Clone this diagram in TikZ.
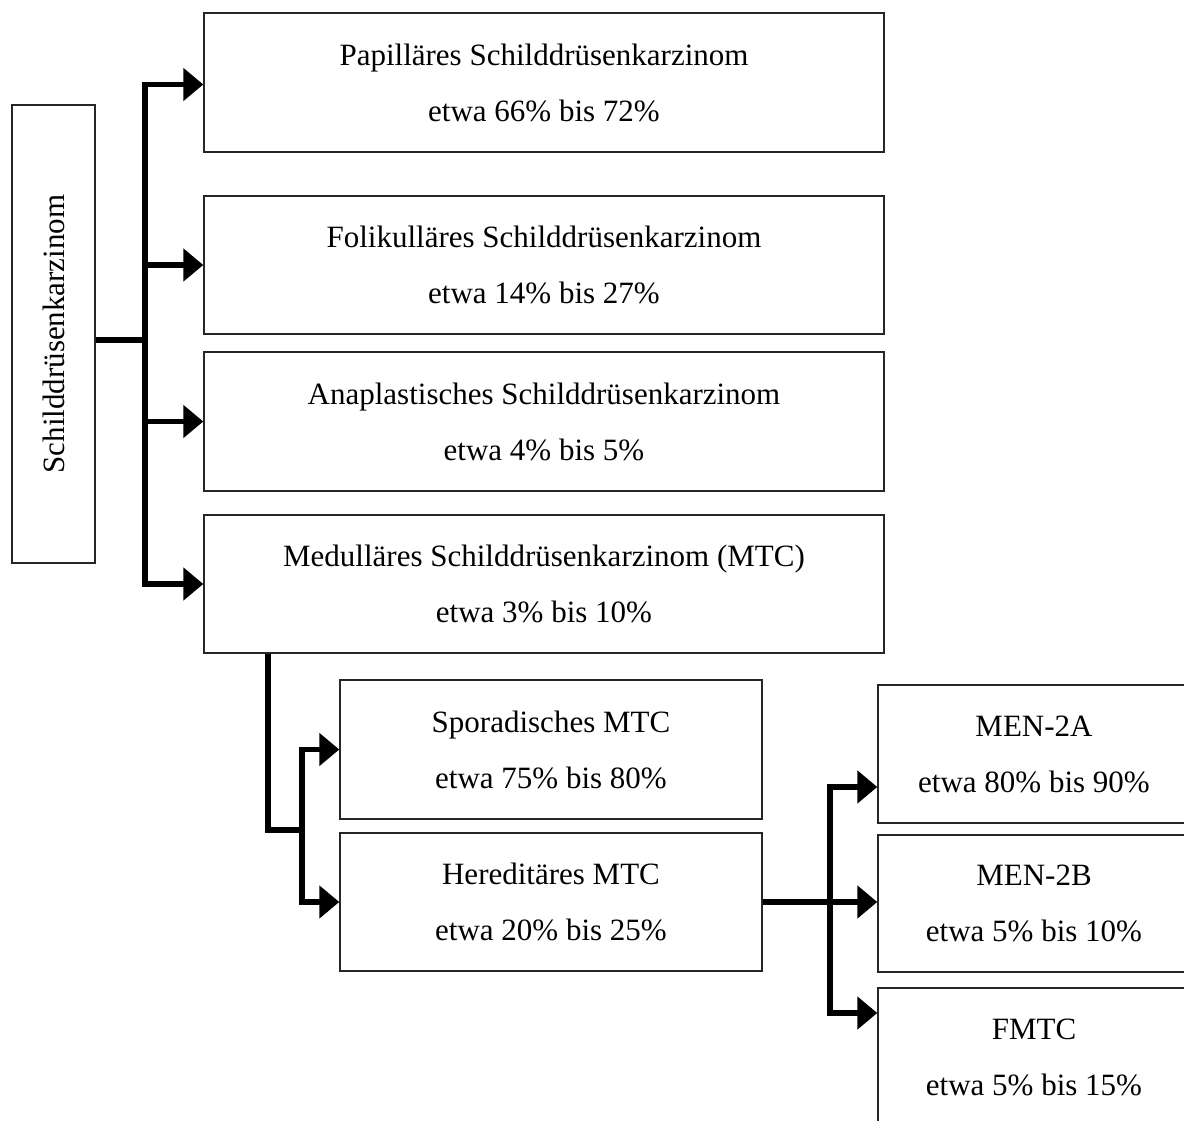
\documentclass[tikz,border=0pt]{standalone}
\usepackage{fontspec}
\setmainfont{Liberation Serif}
\usepackage{graphicx}
\usetikzlibrary{arrows.meta}
\begin{document}
\begin{tikzpicture}[x=1pt,y=-1pt,
 box/.style={draw=black!85, line width=1.4pt, fill=white, align=center, inner sep=0pt, font=\fontsize{31}{56}\selectfont},
 conn/.style={line width=5.2pt, -{Triangle[length=20pt,width=32pt]}}]
\useasboundingbox (0,0) rectangle (1184,1121);
\clip (0,0) rectangle (1184,1121);
\fill[white] (0,0) rectangle (1184,1121);
\node[box, minimum width=83pt, minimum height=458pt] (root) at (53.5,334) {\rotatebox{90}{Schilddrüsenkarzinom}};
\node[box, minimum width=680pt, minimum height=139pt] (p) at (544,82.5) {Papilläres Schilddrüsenkarzinom\\etwa 66\% bis 72\%};
\node[box, minimum width=680pt, minimum height=138pt] (f) at (544,265) {Folikulläres Schilddrüsenkarzinom\\etwa 14\% bis 27\%};
\node[box, minimum width=680pt, minimum height=139pt] (a) at (544,421.5) {Anaplastisches Schilddrüsenkarzinom\\etwa 4\% bis 5\%};
\node[box, minimum width=680pt, minimum height=138pt] (m) at (544,584) {Medulläres Schilddrüsenkarzinom (MTC)\\etwa 3\% bis 10\%};
\node[box, minimum width=422pt, minimum height=139pt] (spor) at (551,749.5) {Sporadisches MTC\\etwa 75\% bis 80\%};
\node[box, minimum width=422pt, minimum height=138pt] (her) at (551,902) {Hereditäres MTC\\etwa 20\% bis 25\%};
\node[box, minimum width=312pt, minimum height=138pt] (men2a) at (1034,754) {MEN-2A\\etwa 80\% bis 90\%};
\node[box, minimum width=312pt, minimum height=137pt] (men2b) at (1034,903.5) {MEN-2B\\etwa 5\% bis 10\%};
\node[box, minimum width=312pt, minimum height=138pt] (fmtc) at (1034,1057) {FMTC\\etwa 5\% bis 15\%};
% first level
\coordinate (t1) at (145,0);
\coordinate (r) at ([yshift=-6pt]root.east);
\draw[conn] (r) -- (r -| t1) |- ([yshift=-2pt]p.west);
\draw[conn] (r -| t1) |- (m.west);
\draw[conn] (f.west -| t1) -- (f.west);
\draw[conn] (a.west -| t1) -- (a.west);
% second level
\coordinate (t2) at (268,830);
\coordinate (t3) at (302,830);
\draw[conn] (m.south -| t2) -- (t2) -- (t3) |- (spor.west);
\draw[conn] (t3) |- (her.west);
% third level
\coordinate (t4) at (830,0);
\draw[conn] (her.east) -- (her.east -| men2b.west);
\draw[conn] (her.east -| t4) |- ([yshift=-33pt]men2a.west);
\draw[conn] (her.east -| t4) |- ([yshift=44pt]fmtc.west);
\end{tikzpicture}
\end{document}
